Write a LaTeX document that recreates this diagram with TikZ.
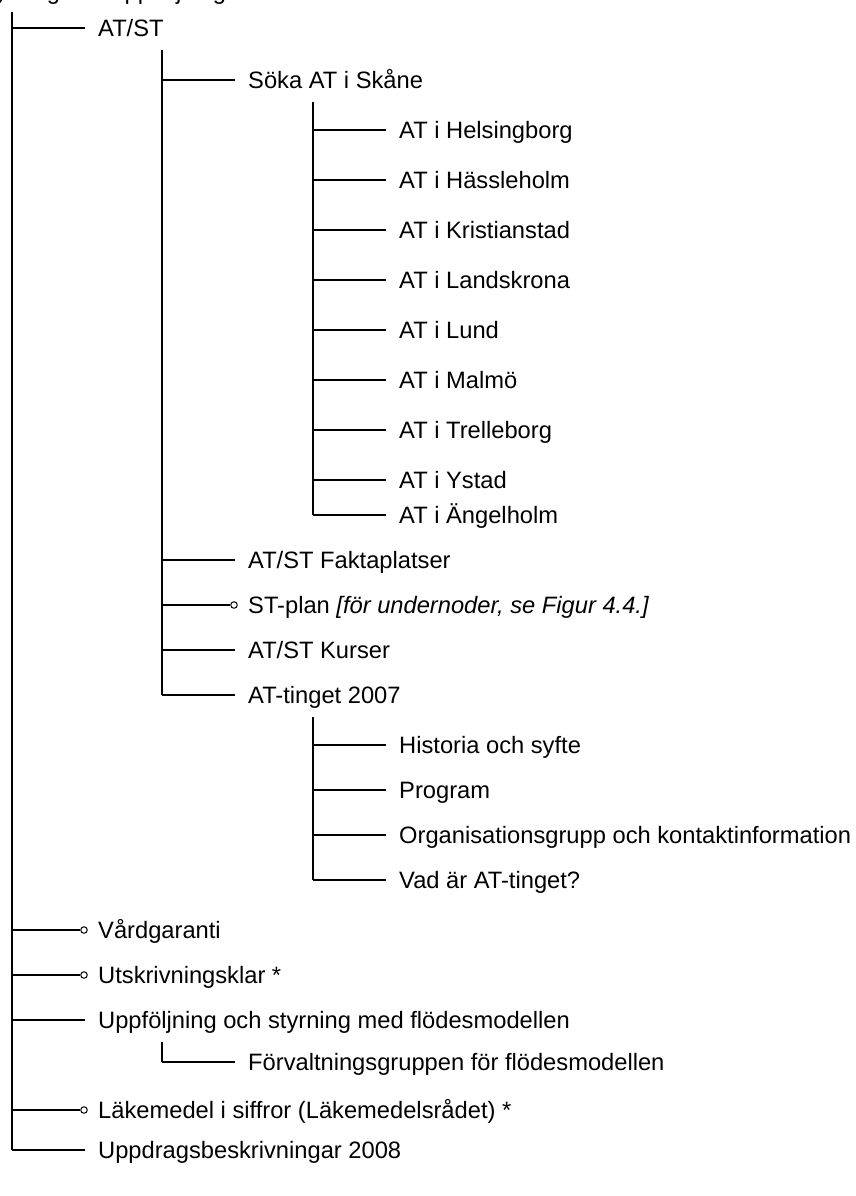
\documentclass[tikz,border=0pt]{standalone}
\usepackage{fontspec}
\setmainfont{Liberation Sans}
\newcommand\treerow[4]{% name, x of vertical, y, text
  \coordinate (#1j) at (#2,#3);
  \node[lbl] (#1) at (#2+86,#3+8.5) {#4};
  \draw[conn] (#1j) -- ([xshift=-13pt]#1.base west |- #1j);
}
\newcommand\treerowc[4]{% with small circle end
  \coordinate (#1j) at (#2,#3);
  \node[lbl] (#1) at (#2+86,#3+8.5) {#4};
  \node[leafc] (#1c) at ([xshift=-14pt]#1.base west |- #1j) {};
  \draw[conn] (#1j) -- (#1c);
}
\begin{document}
\begin{tikzpicture}[x=1pt,y=-1pt,
  lbl/.style={anchor=base west, inner sep=0pt, font=\fontsize{23.7}{28}\selectfont},
  conn/.style={draw=black, line width=1.2pt},
  leafc/.style={circle, draw=black, fill=white, inner sep=0pt, minimum size=6.5pt, line width=1pt}]
\useasboundingbox (0,0) rectangle (856,1196);
\begin{scope}
  \clip (0,0) rectangle (856,1196);
  \node[lbl] (title) at (-27,0) {Styrning och uppföljning};
\end{scope}
% level 1
\coordinate (v1) at (12,12);
\treerow{atst}{12}{28}{AT/ST}
% level 2 under AT/ST
\coordinate (v2) at (162,50);
\treerow{soka}{162}{80}{Söka AT i Skåne}
% level 3 under Söka
\coordinate (v3) at (313,102);
\treerow{hbg}{313}{130}{AT i Helsingborg}
\treerow{hlm}{313}{180}{AT i Hässleholm}
\treerow{kri}{313}{230}{AT i Kristianstad}
\treerow{lan}{313}{280}{AT i Landskrona}
\treerow{lun}{313}{330}{AT i Lund}
\treerow{mal}{313}{380}{AT i Malmö}
\treerow{tre}{313}{430}{AT i Trelleborg}
\treerow{yst}{313}{480}{AT i Ystad}
\treerow{ang}{313}{515}{AT i Ängelholm}
\draw[conn] (v3) -- (angj);
\treerow{fakta}{162}{560}{AT/ST Faktaplatser}
\treerowc{stplan}{162}{605}{ST-plan \textit{[för undernoder, se Figur 4.4.]}}
\treerow{kurs}{162}{650}{AT/ST Kurser}
\treerow{ting}{162}{695}{AT-tinget 2007}
\draw[conn] (v2) -- (tingj);
% under AT-tinget
\coordinate (v4) at (313,717);
\treerow{hist}{313}{745}{Historia och syfte}
\treerow{prog}{313}{790}{Program}
\treerow{org}{313}{835}{Organisationsgrupp och kontaktinformation}
\treerow{vad}{313}{880}{Vad är AT-tinget?}
\draw[conn] (v4) -- (vadj);
% rest of level 1
\treerowc{vard}{12}{930}{Vårdgaranti}
\treerowc{utsk}{12}{975}{Utskrivningsklar *}
\treerow{uppf}{12}{1020}{Uppföljning och styrning med flödesmodellen}
\coordinate (v5) at (162,1042);
\treerow{forv}{162}{1062}{Förvaltningsgruppen för flödesmodellen}
\draw[conn] (v5) -- (forvj);
\treerowc{lake}{12}{1110}{Läkemedel i siffror (Läkemedelsrådet) *}
\treerow{uppd}{12}{1150}{Uppdragsbeskrivningar 2008}
\draw[conn] (v1) -- (uppdj);
\end{tikzpicture}
\end{document}
